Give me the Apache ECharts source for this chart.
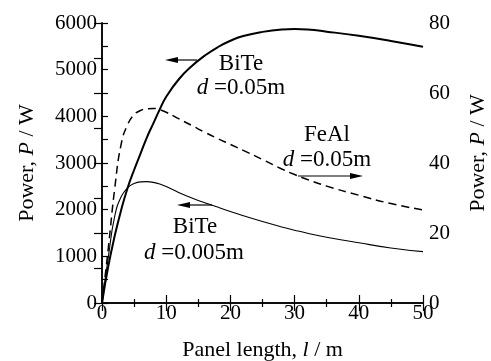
<!DOCTYPE html>
<html>
<head>
<meta charset="utf-8">
<script src="https://cdn.jsdelivr.net/npm/echarts@6/dist/echarts.min.js"></script>
<style>
  html, body { margin: 0; padding: 0; background: #fff; }
  #chart { width: 491px; height: 361px; }
</style>
</head>
<body>
<div id="chart"></div>
<script>
// panel length l (m)
const panelLength = [0, 1, 2, 3, 4, 5, 6, 7, 8, 9, 10, 12, 14, 16, 18, 20, 22, 25, 28, 30, 32, 35, 40, 45, 50]
// BiTe, d = 0.05 m (left axis, W)
const biteThick = [0, 800, 1450, 2000, 2470, 2850, 3200, 3550, 3850, 4150, 4420, 4800, 5080, 5300, 5480, 5620, 5720, 5810, 5860, 5870, 5860, 5815, 5725, 5615, 5490]
// BiTe, d = 0.005 m (left axis, W)
const biteThin = [0, 1000, 1870, 2280, 2470, 2560, 2595, 2600, 2585, 2550, 2495, 2365, 2250, 2150, 2055, 1960, 1870, 1745, 1630, 1560, 1495, 1410, 1290, 1180, 1100]
// FeAl, d = 0.05 m (right axis, W)
const feal = [0, 16, 33, 45.5, 51, 53.8, 55, 55.5, 55.6, 55.2, 54.5, 52.6, 50.7, 48.8, 47, 45.3, 43.6, 41, 38.3, 36.7, 35.3, 33.4, 30.8, 28.4, 26.6]

const xTicks = { min: 0, max: 50, interval: 10 }
const leftTicks = { min: 0, max: 6000, interval: 1000 }
const rightTicks = { min: 0, max: 80, interval: 20 }

const font = '"Liberation Serif", "Times New Roman", serif'

function pairs(ys) {
  return panelLength.map((x, i) => [x, ys[i]])
}

function arrow(x1, x2, y) {
  // line with a filled head at x2
  const dir = x2 > x1 ? 1 : -1
  return [
    { type: 'line', shape: { x1: x1, y1: y, x2: x2 - dir * 8, y2: y }, style: { stroke: '#000', lineWidth: 1.2 } },
    { type: 'polygon', shape: { points: [[x2, y], [x2 - dir * 13, y - 3], [x2 - dir * 13, y + 3]] }, style: { fill: '#000' } }
  ]
}

function label(x, y, text) {
  return {
    type: 'text',
    x: x,
    y: y,
    style: {
      text: text,
      align: 'center',
      verticalAlign: 'middle',
      fontFamily: font,
      fontSize: 23,
      fill: '#000',
      rich: { i: { fontStyle: 'italic', fontFamily: font, fontSize: 23 } }
    }
  }
}

const chart = echarts.init(document.getElementById('chart'))

const axisText = { fontFamily: font, fontSize: 21, color: '#000', formatter: v => String(v) }
const nameText = { fontFamily: font, fontSize: 22, color: '#000', rich: { i: { fontStyle: 'italic', fontFamily: font, fontSize: 22 } } }

const option = {
  animation: false,
  backgroundColor: '#fff',
  textStyle: { fontFamily: font },
  grid: { left: 102, right: 68, top: 23, bottom: 58, containLabel: false, outerBoundsMode: 'none' },
  xAxis: [
    {
      type: 'value',
      min: xTicks.min,
      max: xTicks.max,
      interval: xTicks.interval,
      name: 'Panel length, {i|l} / m',
      nameLocation: 'middle',
      nameGap: 36,
      nameTextStyle: nameText,
      axisLine: { show: true, lineStyle: { color: '#000', width: 1.5 } },
      axisTick: { inside: true, length: 8, lineStyle: { color: '#000', width: 1.2 } },
      minorTick: { show: true, splitNumber: 2, length: 4, lineStyle: { color: '#000', width: 1.2 } },
      axisLabel: Object.assign({ margin: 0 }, axisText),
      splitLine: { show: false }
    },
    {
      type: 'value',
      position: 'top',
      min: xTicks.min,
      max: xTicks.max,
      interval: xTicks.interval,
      axisLine: { show: true, lineStyle: { color: '#000', width: 1.5 } },
      axisTick: { inside: true, length: 8, lineStyle: { color: '#000', width: 1.2 } },
      minorTick: { show: true, splitNumber: 2, length: 4, lineStyle: { color: '#000', width: 1.2 } },
      axisLabel: { show: false },
      splitLine: { show: false }
    }
  ],
  yAxis: [
    {
      type: 'value',
      min: leftTicks.min,
      max: leftTicks.max,
      interval: leftTicks.interval,
      name: 'Power, {i|P} / W',
      nameLocation: 'middle',
      nameGap: 64,
      nameTextStyle: nameText,
      axisLine: { show: true, lineStyle: { color: '#000', width: 1.5 } },
      axisTick: { inside: true, length: 6, lineStyle: { color: '#000', width: 1.2 } },
      minorTick: { show: true, splitNumber: 2, length: 6, lineStyle: { color: '#000', width: 1.2 } },
      axisLabel: Object.assign({ margin: 5 }, axisText),
      splitLine: { show: false }
    },
    {
      type: 'value',
      position: 'right',
      min: rightTicks.min,
      max: rightTicks.max,
      interval: rightTicks.interval,
      name: 'Power, {i|P} / W',
      nameLocation: 'middle',
      nameGap: 44,
      nameTextStyle: Object.assign({ padding: [0, 0, 0, 20] }, nameText),
      axisLine: { show: true, lineStyle: { color: '#000', width: 1.5 } },
      axisTick: { inside: true, length: 8, lineStyle: { color: '#000', width: 1.2 } },
      minorTick: { show: true, splitNumber: 2, length: 8, lineStyle: { color: '#000', width: 1.2 } },
      axisLabel: Object.assign({ margin: 6 }, axisText),
      splitLine: { show: false }
    }
  ],
  series: [
    {
      name: 'BiTe d=0.05m',
      type: 'line',
      data: pairs(biteThick),
      smooth: true,
      showSymbol: false,
      lineStyle: { color: '#000', width: 2 }
    },
    {
      name: 'BiTe d=0.005m',
      type: 'line',
      data: pairs(biteThin),
      smooth: true,
      showSymbol: false,
      lineStyle: { color: '#000', width: 1.1 }
    },
    {
      name: 'FeAl d=0.05m',
      type: 'line',
      yAxisIndex: 1,
      data: pairs(feal),
      smooth: true,
      showSymbol: false,
      lineStyle: { color: '#000', width: 1.5, type: [8, 5] }
    }
  ],
  graphic: [
    label(241, 64, 'BiTe'),
    label(241, 88, '{i|d} =0.05m'),
    label(195, 227, 'BiTe'),
    label(194, 253, '{i|d} =0.005m'),
    label(327, 135, 'FeAl'),
    label(327, 160, '{i|d} =0.05m')
  ].concat(arrow(197, 165, 60), arrow(212, 177, 205), arrow(298, 363, 176))
}

chart.setOption(option)
</script>
</body>
</html>
